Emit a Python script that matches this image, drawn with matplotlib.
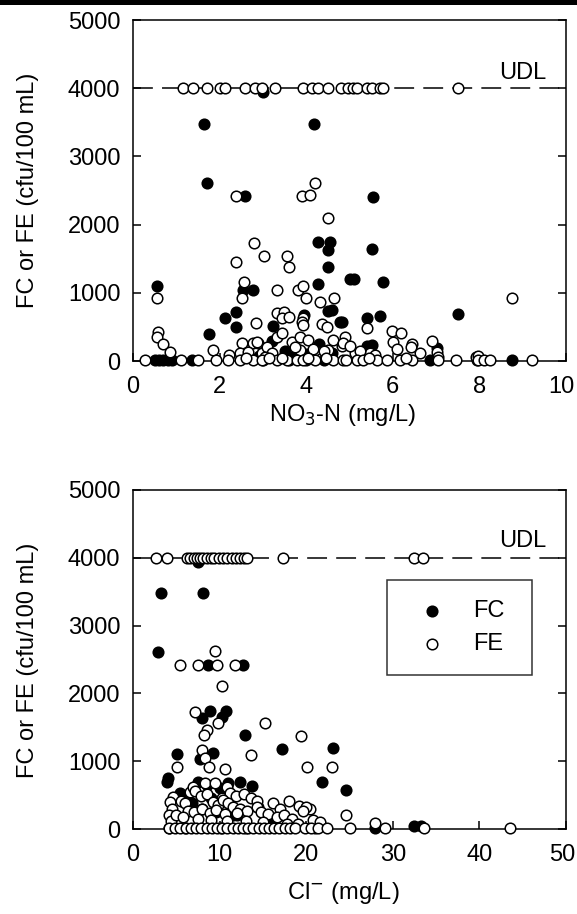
import matplotlib
matplotlib.use("Agg")
import matplotlib.pyplot as plt
from matplotlib.patches import Rectangle
from matplotlib.transforms import ScaledTranslation

plt.rcParams['font.family'] = ['Liberation Sans', 'DejaVu Sans']

UDL = 4000

# ---------------- Top panel: NO3-N ----------------
no3_fc_x = [3.01, 1.64, 4.19, 1.72, 2.59, 5.54, 4.28, 4.55, 4.51, 4.50, 5.01, 0.56, 2.55, 2.78,
            4.28, 2.38, 2.12, 2.38, 1.76, 4.50, 3.96, 4.78, 3.24, 5.51, 5.10, 5.78, 7.51, 5.70,
            5.41, 4.82, 4.59, 5.41, 5.51, 7.01, 3.20, 3.50, 4.30, 4.00, 2.90, 3.70, 4.60,
            0.50, 0.60, 0.70, 0.80, 0.90, 1.36, 3.00, 3.60, 4.00, 4.40, 6.86, 7.94, 8.75]
no3_fc_y = [3940, 3470, 3470, 2605, 2424, 2409, 1749, 1749, 1627, 1383, 1198, 1099, 1041, 1041,
            1124, 723, 635, 503, 391, 737, 674, 576, 517, 1637, 1198, 1163, 689, 660,
            626, 576, 748, 220, 230, 186, 300, 150, 250, 100, 80, 60, 120,
            10, 10, 10, 10, 10, 10, 10, 10, 10, 10, 10, 10, 10]

no3_fe_x = [1.16, 1.38, 1.70, 2.02, 2.13, 2.59, 2.82, 2.97, 3.28, 3.92, 4.13, 4.28, 4.51, 4.80,
            4.97, 5.09, 5.17, 5.40, 5.51, 5.70, 5.78, 7.51,
            2.38, 3.90, 4.09, 4.20, 4.51, 2.79, 3.03, 3.55, 3.61, 2.37, 0.56, 2.57, 3.33, 3.80,
            3.92, 3.99, 4.32, 4.64, 2.51, 3.33, 3.49, 3.43, 3.61, 3.93, 3.91, 4.36, 4.47, 2.84,
            0.58, 0.56, 0.70, 0.85, 8.75, 5.41, 5.97, 6.19, 6.90, 4.90, 4.82, 6.01, 6.44, 6.42,
            6.63, 5.13, 5.47, 7.01, 7.05, 7.92, 7.97, 1.85, 2.22, 2.51, 2.76, 2.89, 2.97,
            2.47, 2.86, 3.32, 3.43, 3.67, 3.86, 3.93, 4.05, 4.63, 4.86, 3.86, 4.20, 4.50, 3.10,
            3.20, 3.75, 4.15, 4.40, 5.00, 5.25, 5.60, 6.10, 2.65, 3.05,
            0.28, 1.12, 1.51, 1.92, 2.20, 2.47, 2.76, 2.97, 3.32, 3.55, 3.78, 3.93, 4.20, 4.63,
            4.86, 4.92, 5.17, 5.32, 5.63, 5.86, 6.17, 6.44, 7.05, 7.46, 7.97, 8.11, 8.25, 9.21,
            2.60, 3.15, 3.45, 4.05, 4.45, 5.45, 6.30]
no3_fe_y = [4000] * 22 + \
           [2424, 2424, 2430, 2605, 2092, 1734, 1539, 1539, 1383, 1456, 919, 1163, 1041, 1041,
            1100, 919, 869, 919, 919, 699, 723, 635, 649, 626, 567, 542, 503, 553,
            430, 356, 249, 136, 928, 479, 440, 406, 293, 356, 220, 283, 249, 210,
            113, 113, 113, 136, 63, 60, 70, 161, 88, 260, 268, 260, 113,
            113, 283, 356, 406, 283, 356, 528, 308, 308, 260, 161, 161, 161, 200,
            120, 200, 180, 150, 220, 140, 90, 180, 130, 60,
            10, 10, 10, 10, 10, 10, 10, 10, 10, 10, 10, 10, 10, 10,
            10, 10, 10, 10, 10, 10, 10, 10, 10, 10, 10, 10, 10, 10,
            40, 50, 40, 45, 40, 40, 40]

# ---------------- Bottom panel: Cl- ----------------
cl_fc_x = [7.54, 3.19, 8.04, 2.93, 8.70, 12.74, 8.89, 7.93, 10.74, 10.24, 12.93, 17.24, 9.20,
           7.74, 5.12, 4.08, 12.36, 13.70, 23.13, 21.79, 24.60, 3.90, 5.40, 14.40, 11.60,
           7.50, 8.50, 10.00, 11.00, 6.20, 9.00, 8.00, 16.00, 18.00, 12.00, 6.80, 9.60,
           27.94, 32.40, 33.30, 4.20, 6.00, 10.20, 13.00, 21.00, 15.50, 19.00]
cl_fc_y = [3943, 3486, 3486, 2616, 2419, 2419, 1745, 1633, 1745, 1656, 1387, 1180, 1125,
           1028, 1106, 748, 698, 634, 1199, 689, 575, 698, 530, 329, 206,
           700, 650, 600, 680, 450, 450, 300, 150, 100, 200, 380, 250,
           10, 40, 40, 10, 10, 10, 10, 10, 40, 60]

cl_fe_x = [2.66, 3.96, 6.2, 6.6, 7.0, 7.4, 7.7, 8.1, 8.5, 9.0, 9.4, 9.9, 10.4, 10.9, 11.4,
           11.9, 12.4, 12.8, 13.2, 17.28, 32.4, 33.5,
           5.43, 7.54, 9.47, 9.73, 11.78, 10.24, 7.16, 9.85, 8.51, 8.20, 15.24, 19.38, 13.59,
           7.93, 8.31, 8.81, 5.04, 10.62, 20.13, 22.94, 19.48, 20.44, 24.60, 27.94,
           4.65, 4.30, 4.50, 4.20, 4.40, 6.58, 6.90, 8.31, 9.47, 10.82, 10.24, 11.20, 11.90,
           12.80, 13.60, 14.30, 14.28, 16.20, 17.00, 18.00, 19.20, 20.00, 19.60,
           5.50, 6.00, 7.20, 7.80, 8.60, 9.20, 9.80, 10.40, 11.00, 11.60, 12.40, 13.20, 14.80,
           15.60, 16.60, 17.40, 18.40, 20.80, 21.60, 6.40, 7.00, 8.00, 8.90, 9.60, 10.60, 12.00,
           5.00, 5.80, 7.50, 9.00, 10.80, 13.00, 15.00, 17.80, 19.00,
           4.20, 4.80, 5.40, 6.10, 6.70, 7.30, 7.90, 8.50, 9.10, 9.70, 10.30, 10.90, 11.50,
           12.10, 12.70, 13.30, 13.90, 14.50, 15.10, 15.70, 16.30, 16.90, 17.50, 18.10, 18.70,
           19.86, 20.60, 21.40, 22.37, 25.06, 29.10, 33.60, 43.50]
cl_fe_y = [4000] * 22 + \
          [2419, 2419, 2630, 2419, 2419, 2114, 1730, 1559, 1460, 1387, 1559, 1376, 1091,
           1165, 1043, 919, 919, 880, 919, 919, 305, 290, 206, 84,
           476, 400, 300, 200, 120, 550, 620, 674, 674, 624, 453, 526, 480,
           520, 450, 410, 329, 380, 300, 420, 340, 320, 260,
           420, 380, 560, 480, 520, 400, 350, 430, 380, 330, 300, 260, 250,
           220, 180, 200, 150, 130, 110, 260, 250, 300, 230, 280, 220, 240,
           200, 180, 150, 140, 120, 120, 100, 80, 70,
           10, 10, 10, 10, 10, 10, 10, 10, 10, 10, 10, 10, 10,
           10, 10, 10, 10, 10, 10, 10, 10, 10, 10, 10, 10,
           10, 10, 10, 10, 10, 10, 10, 10]

y_ticks = [0, 1000, 2000, 3000, 4000, 5000]
no3_ticks = [0, 2, 4, 6, 8, 10]
cl_ticks = [0, 10, 20, 30, 40, 50]

FS = 17
MS = 58

fig = plt.figure(figsize=(5.77, 9.14), dpi=100)
fig.patches.append(Rectangle((0, 1 - 5 / 914), 1, 5 / 914, transform=fig.transFigure,
                             facecolor='black', edgecolor='none', zorder=10))

ax1 = fig.add_axes([133 / 577, 1 - 361 / 914, 433 / 577, 341 / 914])
ax2 = fig.add_axes([133 / 577, 1 - 829 / 914, 433 / 577, 339 / 914])


def style(ax, xmax, xticks):
    ax.set_xlim(0, xmax)
    ax.set_ylim(0, 5000)
    ax.set_xticks(xticks)
    ax.set_yticks(y_ticks)
    ax.tick_params(direction='in', length=6, width=1.1, labelsize=FS, right=True,
                   top=False)
    ax.tick_params(axis='x', pad=11)
    ax.tick_params(axis='y', pad=9)
    for s in ax.spines.values():
        s.set_linewidth(1.1)
    ax.axhline(UDL, color='black', lw=1.1, ls=(0, (13, 6)), zorder=1)
    # keep the last x tick label fully inside the canvas
    last = ax.get_xticklabels()[-1]
    last.set_transform(last.get_transform() + ScaledTranslation(-3 / 72, 0, fig.dpi_scale_trans))


style(ax1, 10, no3_ticks)
style(ax2, 50, cl_ticks)

kw_fc = dict(s=MS, c='black', edgecolors='black', linewidths=1.1, zorder=3, clip_on=False)
kw_fe = dict(s=MS, c='white', edgecolors='black', linewidths=1.1, zorder=4, clip_on=False)

ax1.scatter(no3_fc_x, no3_fc_y, **kw_fc)
ax1.scatter(no3_fe_x, no3_fe_y, **kw_fe)
ax2.scatter(cl_fc_x, cl_fc_y, label='FC', **kw_fc)
ax2.scatter(cl_fe_x, cl_fe_y, label='FE', **kw_fe)

ax1.text(9.55, 4060, 'UDL', ha='right', va='bottom', fontsize=FS)
ax2.text(47.7, 4080, 'UDL', ha='right', va='bottom', fontsize=FS)

leg = ax2.legend(loc='upper left', bbox_to_anchor=(0.587, 0.534, 0.334, 0.2), mode='expand',
                 borderaxespad=0, fontsize=FS, frameon=True, fancybox=False,
                 edgecolor='black', borderpad=0.85, labelspacing=0.45, handlelength=2.1,
                 handletextpad=0.7, scatterpoints=1)
leg.get_frame().set_linewidth(1.1)

fig.text(28 / 577, 1 - 190 / 914, 'FC or FE (cfu/100 mL)', rotation=90, ha='center',
         va='center', fontsize=FS)
fig.text(28 / 577, 1 - 660 / 914, 'FC or FE (cfu/100 mL)', rotation=90, ha='center',
         va='center', fontsize=FS)
fig.text(343 / 577, 1 - 415 / 914, 'NO$_3$-N (mg/L)', ha='center', va='center', fontsize=FS)
fig.text(343 / 577, 1 - 893 / 914, 'Cl$^{-}$ (mg/L)', ha='center', va='center', fontsize=FS)

fig.savefig('out.png', dpi=100)
